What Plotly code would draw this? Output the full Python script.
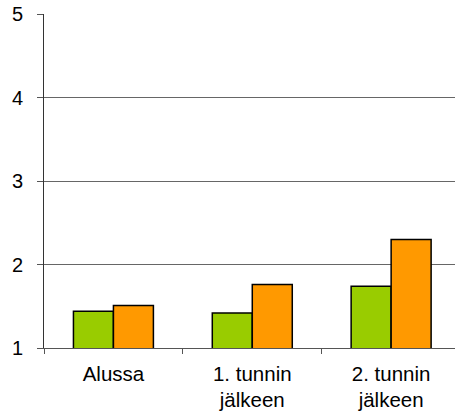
import plotly.graph_objects as go

categories = ["Alussa", "1. tunnin<br>jälkeen", "2. tunnin<br>jälkeen"]
series_green = [1.44, 1.42, 1.74]
series_orange = [1.51, 1.76, 2.30]
y_ticks = [1, 2, 3, 4, 5]

fig = go.Figure()
fig.add_trace(go.Bar(x=categories, y=series_green,
                     marker=dict(color="#99cc00", line=dict(color="#000000", width=1.5))))
fig.add_trace(go.Bar(x=categories, y=series_orange,
                     marker=dict(color="#ff9900", line=dict(color="#000000", width=1.5))))

fig.update_layout(
    width=455, height=413,
    margin=dict(l=44, r=0, t=14, b=65),
    paper_bgcolor="white", plot_bgcolor="white",
    barmode="group", bargap=0.424, bargroupgap=0,
    showlegend=False,
    font=dict(family="Liberation Sans, Arial, sans-serif", size=20, color="#000000"),
)
fig.update_xaxes(
    type="category", range=[-0.5, 2.46],
    showline=True, linecolor="#555555", linewidth=1,
    ticks="outside", tickson="boundaries", ticklen=5, tickcolor="#555555",
    showgrid=False, tickfont=dict(size=20.5), ticklabelstandoff=7,
)
fig.update_yaxes(
    range=[1, 5], tickvals=y_ticks,
    showline=True, linecolor="#333333", linewidth=1,
    ticks="outside", ticklen=6, tickcolor="#555555",
    showgrid=True, gridcolor="#666666", gridwidth=1,
    ticklabelstandoff=10, tickfont=dict(size=20), zeroline=False,
)

fig.write_html("out.html")
